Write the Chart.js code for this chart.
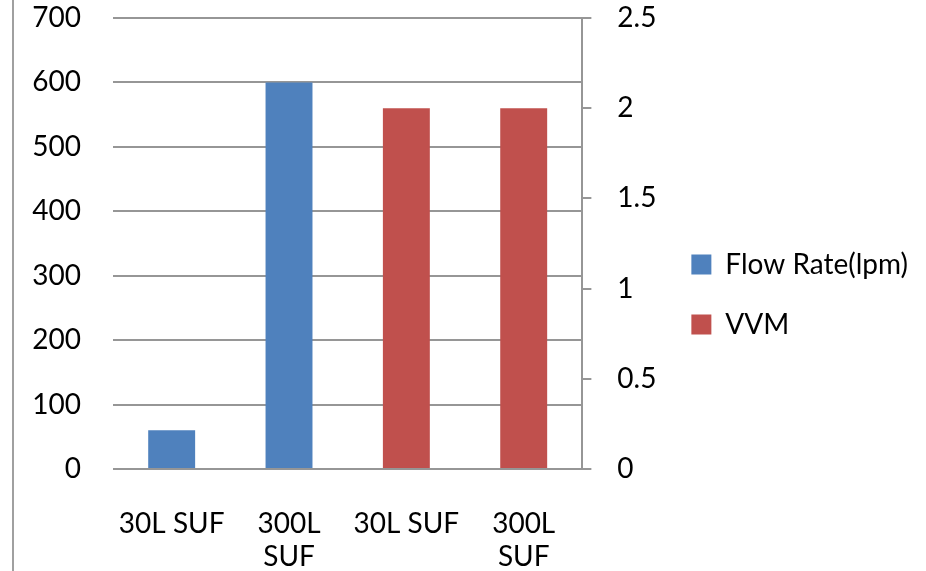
<!DOCTYPE html>
<html>
<head>
<meta charset="utf-8">
<script src="https://cdn.jsdelivr.net/npm/chart.js@4"></script>
<style>
  html, body { margin: 0; padding: 0; background: #fff; }
  #wrap { position: relative; width: 926px; height: 571px; }
  #edge { position: absolute; left: 12px; top: 0; width: 2px; height: 571px; background: #a0a0a0; }
</style>
</head>
<body>
<div id="wrap">
  <canvas id="chart" width="926" height="571"></canvas>
  <div id="edge"></div>
</div>
<script>
// categories and series
const categories = ['30L SUF', ['300L', 'SUF'], '30L SUF', ['300L', 'SUF']];
const flowRate = [60, 600, null, null];
const vvm = [null, null, 2, 2];
const leftTicks = [0, 100, 200, 300, 400, 500, 600, 700];
const rightTicks = [0, 0.5, 1, 1.5, 2, 2.5];

const gridGray = '#969696';
const font = { family: 'Lato', size: 28 };

const canvasEl = document.getElementById('chart');
new Chart(canvasEl.getContext('2d'), {
    type: 'bar',
    data: {
        labels: categories,
        datasets: [
            { label: 'Flow Rate(lpm)', data: flowRate, yAxisID: 'y', backgroundColor: '#4F81BD' },
            { label: 'VVM', data: vvm, yAxisID: 'y1', backgroundColor: '#C0504D' }
        ]
    },
    options: {
        responsive: false,
        animation: false,
        grouped: false,
        barPercentage: 0.4,
        categoryPercentage: 1,
        layout: { padding: { top: 18, left: 0, right: 8, bottom: 0 } },
        scales: {
            x: {
                grid: { display: false },
                border: { display: false },
                ticks: { color: '#000', font: font, padding: 30, maxRotation: 0 },
                afterFit: function(s) { s.height = 102; s.paddingLeft = 0; s.paddingRight = 0; }
            },
            y: {
                position: 'left',
                min: leftTicks[0],
                max: leftTicks[leftTicks.length - 1],
                afterBuildTicks: function(s) { s.ticks = leftTicks.map(v => ({ value: v })); },
                grid: { color: gridGray, lineWidth: 2, drawTicks: false },
                border: { display: false },
                ticks: { color: '#000', font: font, padding: 32 },
                afterFit: function(s) { s.width = 113; s.paddingTop = 0; s.paddingBottom = 0; }
            },
            y1: {
                position: 'right',
                min: rightTicks[0],
                max: rightTicks[rightTicks.length - 1],
                afterBuildTicks: function(s) { s.ticks = rightTicks.map(v => ({ value: v })); },
                grid: { drawOnChartArea: false, color: gridGray, lineWidth: 2, tickLength: 9 },
                border: { display: true, color: gridGray, width: 2 },
                ticks: { color: '#000', font: font, padding: 26, callback: v => String(v) },
                afterFit: function(s) { s.width = 77; s.paddingTop = 0; s.paddingBottom = 0; }
            }
        },
        plugins: {
            legend: {
                position: 'right',
                maxWidth: 400,
                labels: { color: '#000', font: font, boxWidth: 20, boxHeight: 20, padding: 32 }
            },
            tooltip: { enabled: false }
        }
    }
});
</script>
</body>
</html>
